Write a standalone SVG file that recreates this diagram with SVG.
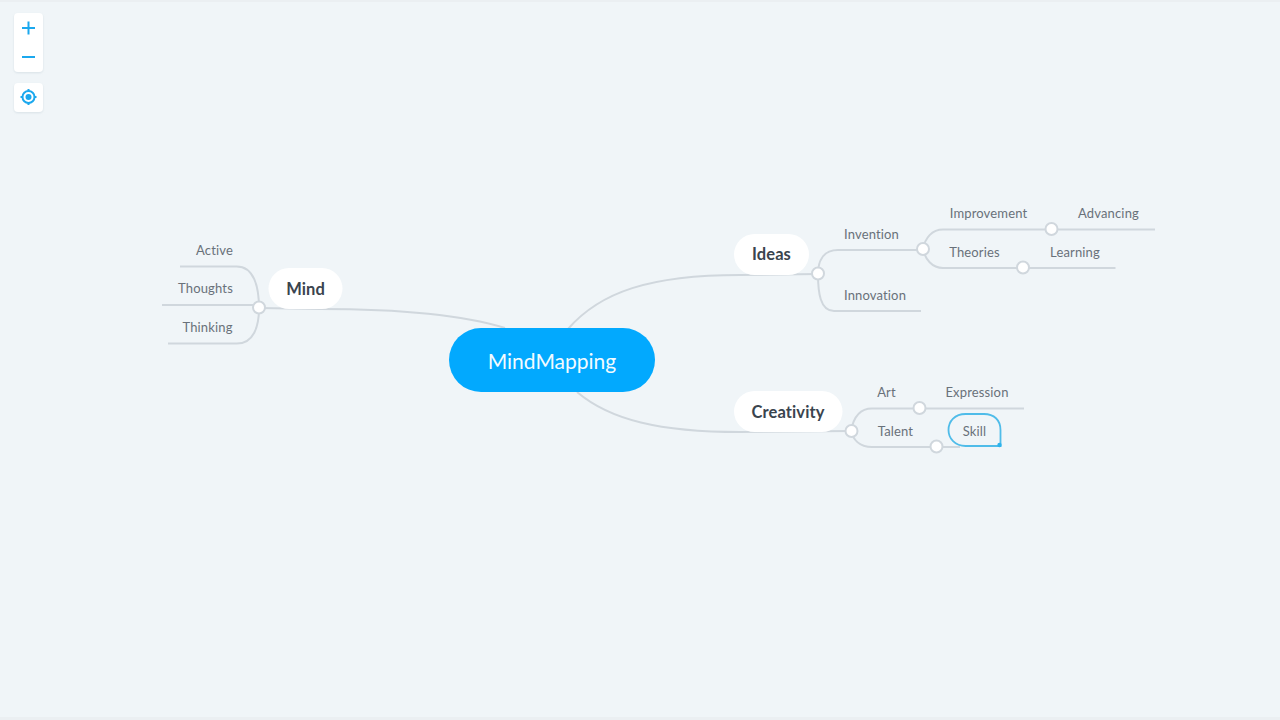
<svg xmlns="http://www.w3.org/2000/svg" width="1280" height="720" viewBox="0 0 1280 720">
<defs><filter id="s" x="-30%" y="-30%" width="160%" height="160%"><feDropShadow dx="0" dy="1" stdDeviation="1.2" flood-color="#9fb0bd" flood-opacity=".3"/></filter></defs>
<style>
text{font-family:Lato,"Open Sans",sans-serif;text-anchor:middle}
.l{font-size:13px;fill:#69717a;letter-spacing:.15px}
.m{font-size:16.500px;font-weight:700;fill:#3a444e;letter-spacing:.1px}
.c{fill:none;stroke:#d0d7dd;stroke-width:2}
.k{fill:#fff;stroke:#d0d7dd;stroke-width:2}
.p{fill:#fff}
.t{fill:#fff;filter:url(#s)}
.i{fill:none;stroke:#1ba8ee;stroke-width:2}
</style>
<rect width="1280" height="720" fill="#f0f5f8"/>
<rect width="1280" height="2" fill="#ebeff2"/>
<rect y="717" width="1280" height="3" fill="#ebeff2"/>
<g id="connectors">
<path class="c" d="M505 328C460 314 400 309 320 309L259 308"/>
<path class="c" d="M259 308C259 287 254 266 236 266.500L180 266.500"/>
<path class="c" d="M259 305L162 305"/>
<path class="c" d="M259 308C259 326 254 344 236 343.500L168 343.500"/>
<path class="c" d="M568 329C600 292 650 275 740 275L818 274"/>
<path class="c" d="M818 274C818 260 824 250 838 250L923 250"/>
<path class="c" d="M818 274C818 292 820 311 834 311L921 311"/>
<path class="c" d="M923 249C925 238 932 229.500 943 229.500L1155 229.500"/>
<path class="c" d="M923 249C925 259 932 268 943 268L1115.500 268"/>
<path class="c" d="M577 392C610 420 660 432 740 432L851 431"/>
<path class="c" d="M851 431C853 420 858 408.500 872 408.500L1024 408.500"/>
<path class="c" d="M851 431C853 439 859 447 872 447L960 447"/>
</g>
<g id="zoom-controls">
<rect class="t" x="14" y="13" width="29" height="59" rx="4"/>
<path class="i" d="M22 28H35M28.500 21.500V34.500M22 57H35"/>
<rect class="t" x="14" y="83" width="29" height="29" rx="4"/>
<circle class="i" cx="28.500" cy="97" r="6"/>
<circle cx="28.500" cy="97" r="3" fill="#1ba8ee"/>
<path class="i" stroke-width="1.500" d="M28.500 89V91M28.500 103V105M20.500 97H22.500M34.500 97H36.500"/>
</g>
<g id="root"><rect x="449" y="328" width="206" height="64" rx="32" fill="#02a9fe"/><text x="552" y="368.500" font-size="21" fill="#f2fbff">MindMapping</text></g>
<g id="mind"><rect class="p" x="268.500" y="268" width="74" height="41" rx="20.500"/><text class="m" x="305.500" y="294.500">Mind</text><circle class="k" cx="259" cy="307.500" r="6"/></g>
<g id="active"><text class="l" x="214.500" y="254.500">Active</text></g>
<g id="thoughts"><text class="l" x="205.500" y="293">Thoughts</text></g>
<g id="thinking"><text class="l" x="207.500" y="331.500">Thinking</text></g>
<g id="ideas"><rect class="p" x="734" y="234" width="75" height="41" rx="20.500"/><text class="m" x="771.500" y="260">Ideas</text><circle class="k" cx="818" cy="273.500" r="6"/></g>
<g id="invention"><text class="l" x="871.500" y="239">Invention</text><circle class="k" cx="923" cy="249" r="6"/></g>
<g id="innovation"><text class="l" x="875" y="299.500">Innovation</text></g>
<g id="improvement"><text class="l" x="988.500" y="218">Improvement</text><circle class="k" cx="1051.500" cy="229" r="6"/></g>
<g id="advancing"><text class="l" x="1108.500" y="218">Advancing</text></g>
<g id="theories"><text class="l" x="974.500" y="256.500">Theories</text><circle class="k" cx="1023" cy="267.500" r="6"/></g>
<g id="learning"><text class="l" x="1075" y="256.500">Learning</text></g>
<g id="creativity"><rect class="p" x="734" y="391" width="108.500" height="41" rx="20.500"/><text class="m" x="788" y="418">Creativity</text><circle class="k" cx="851.500" cy="431" r="6"/></g>
<g id="art"><text class="l" x="886.500" y="397">Art</text><circle class="k" cx="919.500" cy="408" r="6"/></g>
<g id="expression"><text class="l" x="977" y="397">Expression</text></g>
<g id="talent"><text class="l" x="895.500" y="435.500">Talent</text><circle class="k" cx="936.500" cy="446.500" r="6"/></g>
<g id="skill"><path d="M965.500 414H984C994 414 1000.500 420 1000.500 430V446H965.500C955 446 948.500 438.500 948.500 430C948.500 421 955 414 965.500 414Z" fill="#f0f5f8" stroke="#4fbce9" stroke-width="1.800"/><circle cx="999.500" cy="445" r="2.200" fill="#2db3ec"/><text class="l" x="974.500" y="435.500">Skill</text></g>
</svg>
